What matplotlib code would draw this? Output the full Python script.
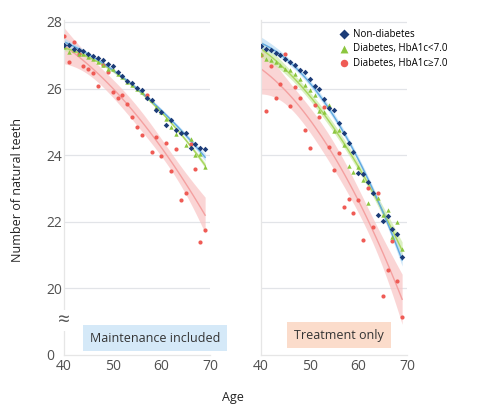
import numpy as np
import matplotlib.pyplot as plt

plt.rcParams['font.family'] = ['Open Sans', 'DejaVu Sans']

ages = np.arange(40, 70)

# Maintenance included (left panel)
maint_non = [27.30, 27.30, 27.20, 27.15, 27.13, 27.05, 26.98, 26.91, 26.86, 26.74,
             26.69, 26.51, 26.39, 26.23, 26.18, 26.03, 25.95, 25.71, 25.66, 25.36,
             25.31, 24.92, 25.06, 24.77, 24.67, 24.67, 24.22, 24.34, 24.22, 24.19]
maint_low = [27.25, 27.10, 27.15, 27.05, 27.05, 26.95, 26.90, 26.80, 26.70, 26.60,
             26.60, 26.45, 26.35, 26.20, 26.10, 26.00, 25.90, 25.75, 25.65, 25.45,
             25.30, 25.10, 24.85, 24.65, 24.70, 24.30, 24.50, 24.00, 24.05, 23.65]
maint_high = [27.57, 26.81, 27.40, 27.05, 26.68, 26.59, 26.46, 26.08, 26.70, 26.51,
              25.91, 25.71, 25.81, 25.54, 25.14, 24.86, 24.60, 25.82, 24.10, 24.54,
              23.97, 24.36, 23.54, 24.20, 22.65, 22.85, 24.34, 23.59, 21.40, 21.75]

# Treatment only (right panel)
treat_non = [27.28, 27.20, 27.15, 27.07, 27.00, 26.90, 26.81, 26.71, 26.56, 26.49,
             26.29, 26.09, 25.99, 25.69, 25.43, 25.36, 24.96, 24.67, 24.37, 24.10,
             23.46, 23.45, 23.20, 22.85, 22.20, 22.03, 22.16, 21.78, 21.63, 20.93]
treat_low = [27.05, 26.90, 26.85, 26.80, 26.70, 26.60, 26.55, 26.45, 26.30, 26.10,
             25.95, 25.80, 25.32, 25.30, 25.50, 24.72, 24.76, 24.30, 23.69, 23.49,
             23.64, 23.27, 22.55, 22.90, 22.70, 22.20, 22.35, 21.53, 21.98, 21.18]
treat_high = [27.00, 25.34, 26.68, 25.73, 26.14, 27.05, 25.48, 26.06, 25.71, 24.75,
              24.22, 25.51, 25.16, 25.44, 24.25, 23.57, 24.07, 22.45, 22.68, 22.25,
              22.65, 21.45, 23.00, 21.83, 22.87, 19.76, 20.54, 21.43, 20.22, 19.14]

labels = ['Non-diabetes', 'Diabetes, HbA1c<7.0', 'Diabetes, HbA1c\u22657.0']
dot_colors = ['#1c3c78', '#8cc63f', '#ef5b55']
line_colors = ['#5fa8e0', '#a8d65c', '#f4a0a0']
band_colors = ['#b9dcf5', '#cdeaa8', '#f9c4c4']
markers = ['D', '^', 'o']
sizes = [8, 10, 9]


def quad_fit(x, y):
    coef, cov = np.polyfit(x, y, 2, cov=True)
    xs = np.linspace(x.min(), x.max(), 100)
    X = np.vander(xs, 3)
    pred = X @ coef
    se = np.sqrt(np.einsum('ij,jk,ik->i', X, cov, X))
    return xs, pred, pred - 1.96 * se, pred + 1.96 * se


fig = plt.figure(figsize=(4.8, 4.18), dpi=100)
ax1 = fig.add_axes([64 / 480, 1 - 355 / 418, 146 / 480, 335 / 418])
ax2 = fig.add_axes([261 / 480, 1 - 355 / 418, 146 / 480, 335 / 418])

panels = [(ax1, [maint_non, maint_low, maint_high]),
          (ax2, [treat_non, treat_low, treat_high])]

for ax, series in panels:
    for i in [2, 1, 0]:
        y = np.array(series[i])
        xs, pred, lo, hi = quad_fit(ages, y)
        ax.fill_between(xs, lo, hi, color=band_colors[i], alpha=0.7, lw=0, zorder=1)
    for i in [2, 1, 0]:
        y = np.array(series[i])
        xs, pred, lo, hi = quad_fit(ages, y)
        ax.plot(xs, pred, color=line_colors[i], lw=1.0, zorder=2)
    for i in [2, 1, 0]:
        ax.scatter(ages, series[i], s=sizes[i], marker=markers[i], color=dot_colors[i],
                   lw=0, zorder=3, label=labels[i])

    ax.set_xlim(40, 70)
    ax.set_ylim(18, 28.06)
    ax.set_xticks([40, 50, 60, 70])
    ax.set_yticks([20, 22, 24, 26, 28])
    ax.grid(axis='y', color='#e2e4e8', lw=0.9)
    ax.set_axisbelow(True)
    for s in ['top', 'right']:
        ax.spines[s].set_visible(False)
    for s in ['left', 'bottom']:
        ax.spines[s].set_color('#e6e6e6')
        ax.spines[s].set_linewidth(0.9)
    ax.tick_params(length=0, labelsize=10, colors='#505050', pad=3)
    ax.tick_params(axis='y', pad=1)

ax2.set_yticklabels([])

# axis break marks on the left panel
ax1.text(40, 19.05, '\u2248', ha='center', va='center', fontsize=15, color='#555555',
         bbox=dict(facecolor='white', edgecolor='none', pad=0), zorder=5, clip_on=False)
ax1.text(-0.095, 17.95, '0', transform=ax1.get_yaxis_transform(), ha='center', va='center',
         fontsize=10, color='#505050')

handles, labs = ax2.get_legend_handles_labels()
ax2.legend(handles[::-1], labs[::-1], loc='upper left', bbox_to_anchor=(0.5, 0.985),
           frameon=False, fontsize=7, handletextpad=0.4, labelspacing=0.35,
           borderaxespad=0, markerscale=1.8, handlelength=1.2)

fig.text(155 / 480, 1 - 338 / 418, 'Maintenance included', ha='center', va='center',
         fontsize=9, color='#333333',
         bbox=dict(facecolor='#d5e9f8', edgecolor='none', boxstyle='square,pad=0.55'))
fig.text(339 / 480, 1 - 335 / 418, 'Treatment only', ha='center', va='center',
         fontsize=9, color='#333333',
         bbox=dict(facecolor='#fbdccb', edgecolor='none', boxstyle='square,pad=0.55'))

fig.text(18 / 480, 1 - 190 / 418, 'Number of natural teeth', rotation=90,
         ha='center', va='center', fontsize=9, color='#222222')
fig.text(233 / 480, 1 - 397 / 418, 'Age', ha='center', va='center',
         fontsize=9, color='#222222')

fig.savefig('out.png', dpi=100)
